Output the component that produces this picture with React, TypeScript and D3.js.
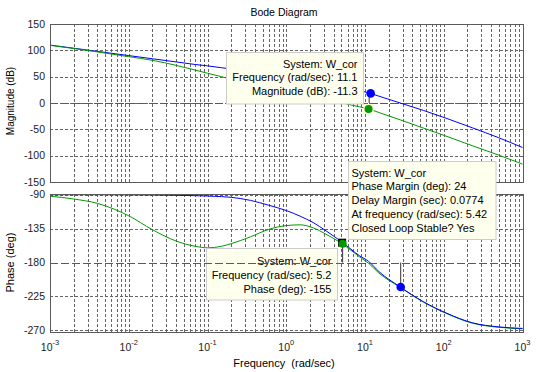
import React from 'react';
import * as d3 from 'd3';

// frequency grid (rad/sec) shared by both systems
const freqs = [0.001, 0.002, 0.004, 0.01, 0.02, 0.04, 0.07, 0.1, 0.15, 0.2, 0.35, 0.6, 1, 1.5, 2.2, 3.2, 5.2, 8.5, 11.1, 15, 28, 55, 110, 230, 500, 1000];

// magnitude (dB)
const magBlue = [110, 104, 98, 90, 84, 78, 73.1, 70.5, 67, 64.5, 59.5, 54.5, 50, 46, 42, 37.8, 31.5, 23.8, 19.2, 13, 0, -14, -29.5, -47, -66, -84.5];
const magGreen = [109.5, 103.5, 97, 88, 81, 71.5, 62.5, 56.5, 50, 45.5, 37, 29.5, 23, 17.5, 12.5, 7, 0, -7.3, -11.3, -18, -32, -47.5, -63.5, -81, -99, -116];

// phase (deg)
const phaseBlue = [-90, -90, -90, -90.2, -90.4, -90.8, -91.3, -91.8, -92.5, -93.5, -97.5, -104, -111, -118.5, -127, -138, -153.5, -171, -178.5, -192, -212.5, -232, -247.5, -260, -265.5, -267.5];
const phaseGreen = [-92, -95.7, -101.5, -118, -136.5, -151.5, -158.5, -160.5, -158.5, -155, -146, -136, -131, -130, -134, -142.5, -155.5, -172.5, -181, -194, -213, -232.5, -248, -260.5, -266, -268];

const magTicks = [-150, -100, -50, 0, 50, 100, 150];
const phaseTicks = [-270, -225, -180, -135, -90];
const decades = [-3, -2, -1, 0, 1, 2, 3];

// markers [freq, value]
const blueMagMarker = [11.8, 18.2];
const greenMagTip = [11.1, -11.3];
const greenPhaseTip = [5.2, -155];
const bluePhaseMarker = [28.4, -212.5];

const magTipLines = ['System: W_cor', 'Frequency (rad/sec): 11.1', 'Magnitude (dB): -11.3'];
const pmTipLines = ['System: W_cor', 'Phase Margin (deg): 24', 'Delay Margin (sec): 0.0774', 'At frequency (rad/sec): 5.42', 'Closed Loop Stable? Yes'];
const phaseTipLines = ['System: W_cor', 'Frequency (rad/sec): 5.2', 'Phase (deg): -155'];

const W = 537;
const H = 372;
const X0 = 50;
const X1 = 522.5;
const MAG_TOP = 24;
const MAG_BOTTOM = 182;
const PH_TOP = 193.5;
const PH_BOTTOM = 331.5;

const FONT = 'Liberation Sans, Arial, Helvetica, sans-serif';
const AXIS = '#5a5a5a';
const GRID = '#666666';
const BLUE = '#0000ff';
const GREEN = '#009900';
const TIP_FILL = '#ffffee';
const TIP_EDGE = '#cccccc';

const x = d3.scaleLog().domain([1e-3, 1e3]).range([X0, X1]);
const magY = d3.scaleLinear().domain([-150, 150]).range([MAG_BOTTOM, MAG_TOP]);
const phY = d3.scaleLinear().domain([-271.6, -88.4]).range([PH_BOTTOM, PH_TOP]);

// minor + major vertical grid positions
const gridFreqs: number[] = [];
for (let e = -3; e < 3; e++) {
  for (let k = 1; k < 10; k++) {
    if (e === -3 && k === 1) continue;
    gridFreqs.push(k * Math.pow(10, e));
  }
}

const makeLine = (y: d3.ScaleLinear<number, number>, vals: number[]) =>
  d3
    .line<number>()
    .x((_, i) => x(freqs[i]))
    .y((d) => y(d))
    .curve(d3.curveMonotoneX)(vals) || '';

const Tip = ({ box, lines, anchor, tx, ty }: any) => (
  <g>
    <rect x={box[0]} y={box[1]} width={box[2]} height={box[3]} fill={TIP_FILL} stroke={TIP_EDGE} strokeWidth={1} />
    {lines.map((l: string, i: number) => (
      <text key={i} x={tx} y={ty + i * 13.8} fontSize={11} fontFamily={FONT} textAnchor={anchor} fill="#000">
        {l}
      </text>
    ))}
  </g>
);

const Grid = ({ y, ticks, top, bottom }: any) => (
  <g stroke={GRID} strokeWidth={1} strokeDasharray="3,2" shapeRendering="crispEdges">
    {gridFreqs.map((f) => (
      <line key={f} x1={Math.round(x(f)) + 0.5} x2={Math.round(x(f)) + 0.5} y1={top} y2={bottom} />
    ))}
    {ticks.map((t: number) => (
      <line key={t} x1={X0} x2={X1} y1={Math.round(y(t)) + 0.5} y2={Math.round(y(t)) + 0.5} />
    ))}
  </g>
);

const YTicks = ({ y, ticks }: any) => (
  <g>
    {ticks.map((t: number) => (
      <text key={t} x={45} y={y(t)} dy="0.36em" fontSize={10.5} fontFamily={FONT} textAnchor="end" fill="#222">
        {String(t)}
      </text>
    ))}
  </g>
);

export default function App() {
  const gx = x(greenMagTip[0]);
  const gy = magY(greenMagTip[1]);
  const bx = x(blueMagMarker[0]);
  const by = magY(blueMagMarker[1]);
  const px = x(greenPhaseTip[0]);
  const py = phY(greenPhaseTip[1]);
  const qx = x(bluePhaseMarker[0]);
  const qy = phY(bluePhaseMarker[1]);

  return (
    <div style={{ position: 'fixed', left: 0, top: 0 }}>
      <svg width={W} height={H} style={{ display: 'block', background: '#fff' }}>
        <text x={284} y={15.5} fontSize={10.5} fontFamily={FONT} textAnchor="middle" fill="#000">
          Bode Diagram
        </text>

        {/* magnitude axes */}
        <rect x={X0} y={MAG_TOP} width={X1 - X0} height={MAG_BOTTOM - MAG_TOP} fill="#fff" />
        <Grid y={magY} ticks={magTicks.slice(1, -1)} top={MAG_TOP} bottom={MAG_BOTTOM} />
        <line x1={X0} x2={X1} y1={Math.round(magY(0)) + 0.5} y2={Math.round(magY(0)) + 0.5} stroke={AXIS} strokeDasharray="8,3" shapeRendering="crispEdges" />
        <path d={makeLine(magY, magBlue)} fill="none" stroke={BLUE} strokeWidth={1} />
        <path d={makeLine(magY, magGreen)} fill="none" stroke={GREEN} strokeWidth={1} />
        <line x1={bx - 1.5} x2={bx - 1.5} y1={magY(0)} y2={by} stroke="#333" strokeWidth={1} />
        <rect x={gx - 5} y={gy - 5} width={10} height={10} fill="#ffffcc" />
        <circle cx={gx} cy={gy} r={4} fill={GREEN} />
        <circle cx={bx} cy={by} r={4.3} fill={BLUE} />
        <rect x={X0 + 0.5} y={MAG_TOP + 0.5} width={X1 - X0} height={MAG_BOTTOM - MAG_TOP} fill="none" stroke={AXIS} shapeRendering="crispEdges" />
        <YTicks y={magY} ticks={magTicks} />
        <text transform={`translate(14,${(MAG_TOP + MAG_BOTTOM) / 2 - 2}) rotate(-90)`} fontSize={10} fontFamily={FONT} textAnchor="middle" fill="#000">
          Magnitude (dB)
        </text>
        <Tip box={[226.5, 52.5, 137, 51.5]} lines={magTipLines} anchor="end" tx={357.5} ty={67.5} />

        {/* phase axes */}
        <rect x={X0} y={PH_TOP} width={X1 - X0} height={PH_BOTTOM - PH_TOP} fill="#fff" />
        <Grid y={phY} ticks={phaseTicks.filter((t) => t !== -180)} top={PH_TOP} bottom={PH_BOTTOM} />
        <path d={makeLine(phY, phaseGreen)} fill="none" stroke={GREEN} strokeWidth={1} />
        <path d={makeLine(phY, phaseBlue)} fill="none" stroke={BLUE} strokeWidth={1} />
        <Tip box={[206.5, 248.5, 131, 51.5]} lines={phaseTipLines} anchor="end" tx={331.5} ty={265} />
        <line x1={X0} x2={X1} y1={Math.round(phY(-180)) + 0.5} y2={Math.round(phY(-180)) + 0.5} stroke={AXIS} strokeDasharray="8,3" shapeRendering="crispEdges" />
        <line x1={px} x2={px} y1={phY(-180)} y2={py} stroke="#333" strokeWidth={1} />
        <line x1={qx} x2={qx} y1={phY(-180)} y2={qy} stroke="#333" strokeWidth={1} />
        <rect x={px - 4.5} y={py - 5} width={8} height={8} fill="#000" />
        <circle cx={px} cy={py} r={4} fill={GREEN} />
        <circle cx={qx} cy={qy} r={4.3} fill={BLUE} />
        <rect x={X0 + 0.5} y={PH_TOP + 0.5} width={X1 - X0} height={PH_BOTTOM - PH_TOP} fill="none" stroke={AXIS} shapeRendering="crispEdges" />
        <YTicks y={phY} ticks={phaseTicks} />
        <text transform={`translate(14,${(PH_TOP + PH_BOTTOM) / 2}) rotate(-90)`} fontSize={11} fontFamily={FONT} textAnchor="middle" fill="#000">
          Phase (deg)
        </text>

        {/* x tick labels */}
        {decades.map((e) => (
          <text key={e} x={x(Math.pow(10, e))} y={350.5} fontSize={10.5} fontFamily={FONT} textAnchor="middle" fill="#222">
            10
            <tspan dy={-6} fontSize={7.5}>{String(e)}</tspan>
          </text>
        ))}
        <text x={284} y={367} fontSize={11} fontFamily={FONT} textAnchor="middle" fill="#000">
          {'Frequency\u00a0\u00a0(rad/sec)'}
        </text>

        <Tip box={[348.5, 161.5, 147.5, 78]} lines={pmTipLines} anchor="start" tx={351.5} ty={176.5} />
      </svg>
    </div>
  );
}
